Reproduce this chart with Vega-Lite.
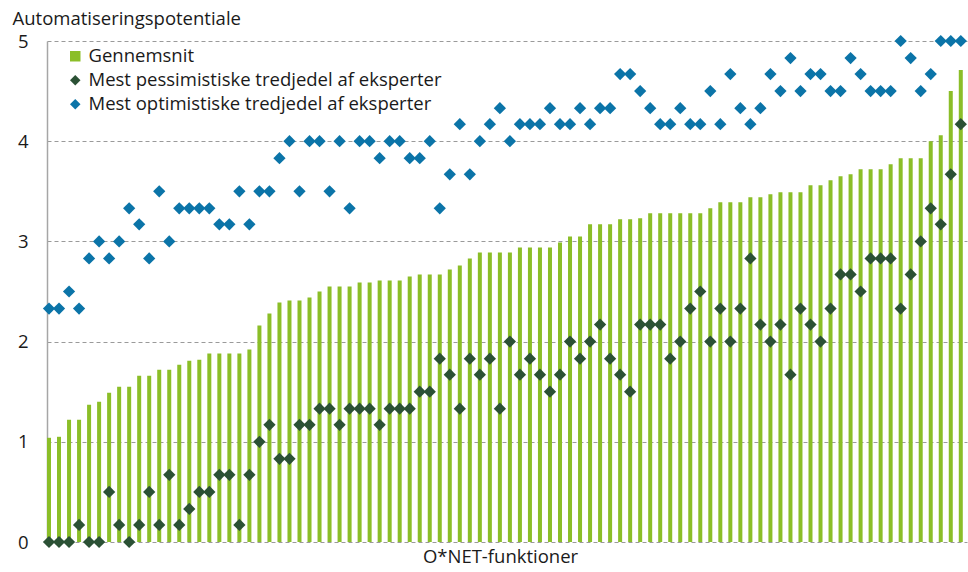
{
  "$schema": "https://vega.github.io/schema/vega-lite/v6.json",
  "width": 920,
  "height": 501,
  "autosize": {"type": "none"},
  "padding": {"left": 47, "top": 41, "right": 1, "bottom": 30},
  "background": "white",
  "config": {"font": "Open Sans", "view": {"stroke": null}},
  "data": {"values": [
    {"i":0,"a":1.04,"p":0,"o":2.33},{"i":1,"a":1.05,"p":0,"o":2.33},{"i":2,"a":1.22,"p":0,"o":2.5},{"i":3,"a":1.22,"p":0.17,"o":2.33},
    {"i":4,"a":1.37,"p":0,"o":2.83},{"i":5,"a":1.40,"p":0,"o":3.0},{"i":6,"a":1.49,"p":0.5,"o":2.83},{"i":7,"a":1.55,"p":0.17,"o":3.0},
    {"i":8,"a":1.55,"p":0,"o":3.33},{"i":9,"a":1.66,"p":0.17,"o":3.17},{"i":10,"a":1.66,"p":0.5,"o":2.83},{"i":11,"a":1.72,"p":0.17,"o":3.5},
    {"i":12,"a":1.72,"p":0.67,"o":3.0},{"i":13,"a":1.77,"p":0.17,"o":3.33},{"i":14,"a":1.81,"p":0.33,"o":3.33},{"i":15,"a":1.82,"p":0.5,"o":3.33},
    {"i":16,"a":1.88,"p":0.5,"o":3.33},{"i":17,"a":1.88,"p":0.67,"o":3.17},{"i":18,"a":1.88,"p":0.67,"o":3.17},{"i":19,"a":1.88,"p":0.17,"o":3.5},
    {"i":20,"a":1.92,"p":0.67,"o":3.17},{"i":21,"a":2.16,"p":1.0,"o":3.5},{"i":22,"a":2.28,"p":1.17,"o":3.5},{"i":23,"a":2.39,"p":0.83,"o":3.83},
    {"i":24,"a":2.41,"p":0.83,"o":4.0},{"i":25,"a":2.41,"p":1.17,"o":3.5},{"i":26,"a":2.44,"p":1.17,"o":4.0},{"i":27,"a":2.50,"p":1.33,"o":4.0},
    {"i":28,"a":2.55,"p":1.33,"o":3.5},{"i":29,"a":2.55,"p":1.17,"o":4.0},{"i":30,"a":2.55,"p":1.33,"o":3.33},{"i":31,"a":2.59,"p":1.33,"o":4.0},
    {"i":32,"a":2.59,"p":1.33,"o":4.0},{"i":33,"a":2.61,"p":1.17,"o":3.83},{"i":34,"a":2.61,"p":1.33,"o":4.0},{"i":35,"a":2.61,"p":1.33,"o":4.0},
    {"i":36,"a":2.65,"p":1.33,"o":3.83},{"i":37,"a":2.67,"p":1.5,"o":3.83},{"i":38,"a":2.67,"p":1.5,"o":4.0},{"i":39,"a":2.67,"p":1.83,"o":3.33},
    {"i":40,"a":2.72,"p":1.67,"o":3.67},{"i":41,"a":2.76,"p":1.33,"o":4.17},{"i":42,"a":2.83,"p":1.83,"o":3.67},{"i":43,"a":2.89,"p":1.67,"o":4.0},
    {"i":44,"a":2.89,"p":1.83,"o":4.17},{"i":45,"a":2.89,"p":1.33,"o":4.33},{"i":46,"a":2.89,"p":2.0,"o":4.0},{"i":47,"a":2.94,"p":1.67,"o":4.17},
    {"i":48,"a":2.94,"p":1.83,"o":4.17},{"i":49,"a":2.94,"p":1.67,"o":4.17},{"i":50,"a":2.94,"p":1.5,"o":4.33},{"i":51,"a":2.99,"p":1.67,"o":4.17},
    {"i":52,"a":3.05,"p":2.0,"o":4.17},{"i":53,"a":3.05,"p":1.83,"o":4.33},{"i":54,"a":3.17,"p":2.0,"o":4.17},{"i":55,"a":3.17,"p":2.17,"o":4.33},
    {"i":56,"a":3.17,"p":1.83,"o":4.33},{"i":57,"a":3.22,"p":1.67,"o":4.67},{"i":58,"a":3.22,"p":1.5,"o":4.67},{"i":59,"a":3.23,"p":2.17,"o":4.5},
    {"i":60,"a":3.28,"p":2.17,"o":4.33},{"i":61,"a":3.28,"p":2.17,"o":4.17},{"i":62,"a":3.28,"p":1.83,"o":4.17},{"i":63,"a":3.28,"p":2.0,"o":4.33},
    {"i":64,"a":3.28,"p":2.33,"o":4.17},{"i":65,"a":3.28,"p":2.5,"o":4.17},{"i":66,"a":3.33,"p":2.0,"o":4.5},{"i":67,"a":3.39,"p":2.33,"o":4.17},
    {"i":68,"a":3.39,"p":2.0,"o":4.67},{"i":69,"a":3.39,"p":2.33,"o":4.33},{"i":70,"a":3.44,"p":2.83,"o":4.17},{"i":71,"a":3.44,"p":2.17,"o":4.33},
    {"i":72,"a":3.47,"p":2.0,"o":4.67},{"i":73,"a":3.49,"p":2.17,"o":4.5},{"i":74,"a":3.49,"p":1.67,"o":4.83},{"i":75,"a":3.49,"p":2.33,"o":4.5},
    {"i":76,"a":3.56,"p":2.17,"o":4.67},{"i":77,"a":3.56,"p":2.0,"o":4.67},{"i":78,"a":3.61,"p":2.33,"o":4.5},{"i":79,"a":3.65,"p":2.67,"o":4.5},
    {"i":80,"a":3.67,"p":2.67,"o":4.83},{"i":81,"a":3.72,"p":2.5,"o":4.67},{"i":82,"a":3.72,"p":2.83,"o":4.5},{"i":83,"a":3.72,"p":2.83,"o":4.5},
    {"i":84,"a":3.77,"p":2.83,"o":4.5},{"i":85,"a":3.83,"p":2.33,"o":5.0},{"i":86,"a":3.83,"p":2.67,"o":4.83},{"i":87,"a":3.83,"p":3.0,"o":4.5},
    {"i":88,"a":4.0,"p":3.33,"o":4.67},{"i":89,"a":4.06,"p":3.17,"o":5.0},{"i":90,"a":4.5,"p":3.67,"o":5.0},{"i":91,"a":4.71,"p":4.17,"o":5.0}
  ]},
  "encoding": {
    "x": {
      "field": "i", "type": "ordinal",
      "scale": {"paddingInner": 0.6, "paddingOuter": 0.21, "align": 0},
      "axis": {"title": "O*NET-funktioner", "labels": false, "ticks": false, "domain": false, "grid": false,
               "titleFontSize": 18.5, "titleFontWeight": "normal", "titleColor": "#1a1a1a", "titlePadding": 5, "titleX": 453}
    }
  },
  "layer": [
    {
      "mark": {"type": "bar"},
      "encoding": {
        "y": {"field": "a", "type": "quantitative", "scale": {"domain": [0, 5], "nice": false},
              "axis": {"title": "Automatiseringspotentiale", "titleAngle": 0, "titleAlign": "left", "titleBaseline": "alphabetic",
                       "titleX": -35, "titleY": -17, "titleFontSize": 18.5, "titleFontWeight": "normal", "titleColor": "#1a1a1a",
                       "values": [0, 1, 2, 3, 4, 5], "format": "d", "labelFontSize": 18.5, "labelColor": "#1a1a1a", "labelPadding": 19, "ticks": false,
                       "grid": true, "gridDash": [4, 3], "gridColor": "#9a9a9a", "gridWidth": 1, "domainColor": "#a6a6a6", "domainWidth": 1.5}},
        "color": {"datum": "Gennemsnit", "type": "nominal",
                  "scale": {"domain": ["Gennemsnit", "Mest pessimistiske tredjedel af eksperter", "Mest optimistiske tredjedel af eksperter"],
                            "range": ["#8BBE28", "#2B5135", "#0B74A8"]},
                  "legend": {"title": null, "orient": "none", "legendX": 19, "legendY": 6, "labelFontSize": 18.5, "labelColor": "#1a1a1a",
                             "labelLimit": 0, "symbolSize": 110, "rowPadding": 5, "labelOffset": 4, "symbolStrokeWidth": 0}}
      }
    },
    {
      "mark": {"type": "point", "filled": true, "opacity": 1, "size": 150},
      "encoding": {
        "y": {"field": "p", "type": "quantitative"},
        "color": {"datum": "Mest pessimistiske tredjedel af eksperter", "type": "nominal"},
        "shape": {"datum": "Mest pessimistiske tredjedel af eksperter", "type": "nominal",
                  "scale": {"domain": ["Gennemsnit", "Mest pessimistiske tredjedel af eksperter", "Mest optimistiske tredjedel af eksperter"],
                            "range": ["square", "diamond", "diamond"]}}
      }
    },
    {
      "mark": {"type": "point", "filled": true, "opacity": 1, "size": 150},
      "encoding": {
        "y": {"field": "o", "type": "quantitative"},
        "color": {"datum": "Mest optimistiske tredjedel af eksperter", "type": "nominal"},
        "shape": {"datum": "Mest optimistiske tredjedel af eksperter", "type": "nominal"}
      }
    }
  ]
}
